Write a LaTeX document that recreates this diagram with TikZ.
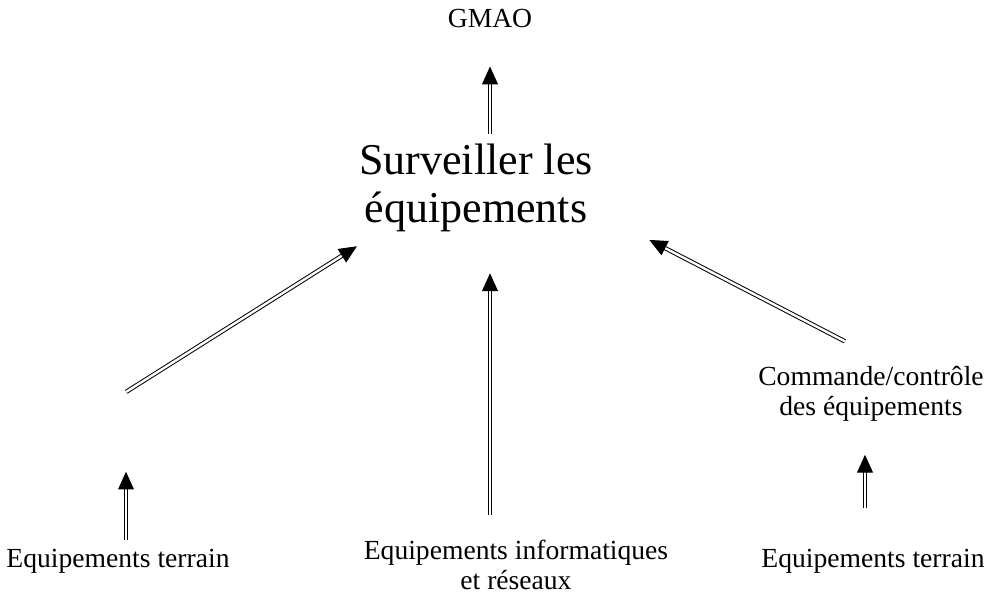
\documentclass[tikz,border=0pt]{standalone}
\usepackage{fontspec}
\setmainfont{Liberation Serif}
\usetikzlibrary{arrows.meta,decorations.markings}

\begin{document}
\begin{tikzpicture}[
    x=0.5pt, y=-0.5pt,
    testo/.style={inner sep=0, align=center, font=\fontsize{13.8}{15}\selectfont},
    titolo/.style={inner sep=0, align=center, font=\fontsize{22}{24}\selectfont},
    dbl/.style 2 args={double, double distance=1.2pt, line width=.5pt,
        shorten <=#1, shorten >=#2+9pt,
        postaction={decorate, decoration={markings,
            mark=at position -#2 with {\arrow{Triangle[length=12pt,width=10pt]}}}}}
]
\useasboundingbox (0,0) rectangle (991,597);

% Haut
\node[testo, anchor=base] (gmao) at (490,28) {GMAO};
\node[titolo, anchor=base] (surv) at (476,223) {Surveiller les\\équipements};

% Bas
\node[testo, anchor=base] (terrg) at (118,568) {Equipements terrain};
\node[testo, anchor=base] (info) at (516,590) {Equipements informatiques\\et réseaux};
\node[testo, anchor=base] (terrd) at (873,568) {Equipements terrain};
\node[testo, anchor=base] (cmd) at (871,416) {Commande/contrôle\\des équipements};

\coordinate (vide1) at (126,392);
\coordinate (vide2) at (126,467);

% Fleches
\draw[dbl={5pt}{17pt}] (surv.north -| gmao) -- (gmao.base);
\draw[dbl={12.5pt}{18pt}] (info.north -| gmao) -- (surv.south -| gmao);
\draw[dbl={0.1pt}{0.1pt}] (vide1) -- ([shift={(2,11)}]surv.south west);
\draw[dbl={0.1pt}{0.1pt}] ([shift={(-26,-25)}]cmd.north) -- ([shift={(52,5)}]surv.south east);
\draw[dbl={4.5pt}{0.1pt}] (terrg.north -| vide2) -- (vide2);
\draw[dbl={20.5pt}{14pt}] ([xshift=-4pt]terrd.north) -- ([xshift=-3pt]cmd.south);
\end{tikzpicture}
\end{document}
